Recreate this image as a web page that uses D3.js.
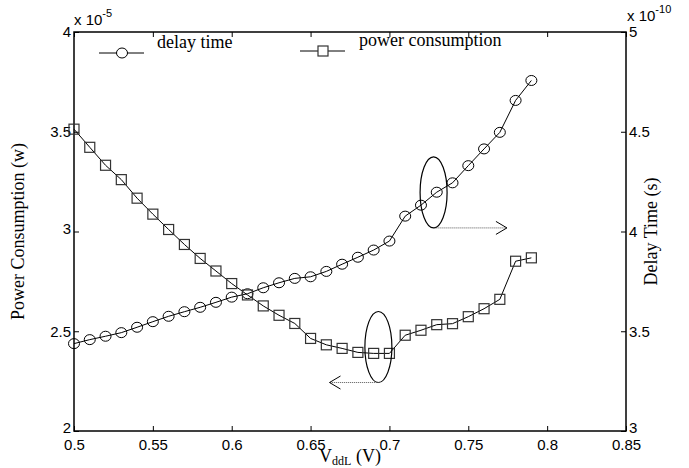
<!DOCTYPE html>
<html>
<head>
<meta charset="utf-8">
<script src="https://cdn.jsdelivr.net/npm/d3@7"></script>
<style>
  body { margin: 0; background: #fff; }
  .tick text { font-family: "Liberation Sans", Arial, sans-serif; font-size: 15px; fill: #000; }
  .lbl { font-family: "Liberation Serif", "Times New Roman", serif; font-size: 18px; fill: #000; }
</style>
</head>
<body>
<svg width="689" height="468"></svg>
<script>
// VddL values (V)
var vddl = [0.50, 0.51, 0.52, 0.53, 0.54, 0.55, 0.56, 0.57, 0.58, 0.59,
            0.60, 0.61, 0.62, 0.63, 0.64, 0.65, 0.66, 0.67, 0.68, 0.69,
            0.70, 0.71, 0.72, 0.73, 0.74, 0.75, 0.76, 0.77, 0.78, 0.79];
// delay time, x 1e-10 s (right axis)
var delayTime = [3.438, 3.458, 3.475, 3.493, 3.520, 3.548, 3.575, 3.598, 3.620, 3.645,
                 3.671, 3.688, 3.718, 3.743, 3.765, 3.773, 3.800, 3.836, 3.871, 3.907,
                 3.952, 4.077, 4.132, 4.197, 4.244, 4.330, 4.414, 4.497, 4.657, 4.757];
// power consumption, x 1e-5 W (left axis)
var powerCons = [3.513, 3.422, 3.332, 3.260, 3.167, 3.087, 3.010, 2.935, 2.865, 2.802,
                 2.739, 2.682, 2.627, 2.580, 2.539, 2.464, 2.432, 2.414, 2.394, 2.389,
                 2.389, 2.480, 2.505, 2.533, 2.538, 2.573, 2.613, 2.660, 2.851, 2.868];

var xTicks = [0.5, 0.55, 0.6, 0.65, 0.7, 0.75, 0.8, 0.85];
var leftTicks = [2, 2.5, 3, 3.5, 4];
var rightTicks = [3, 3.5, 4, 4.5, 5];

var svg = d3.select("svg"),
    margin = {top: 32, right: 63, bottom: 37, left: 74},
    width  = +svg.attr("width") - margin.left - margin.right,
    height = +svg.attr("height") - margin.top - margin.bottom;

var x  = d3.scaleLinear().domain([0.5, 0.85]).range([0, width]),
    yL = d3.scaleLinear().domain([2, 4]).range([height, 0]),
    yR = d3.scaleLinear().domain([3, 5]).range([height, 0]);

var fmt = function(d) { return String(d); };

var g = svg.append("g")
           .attr("transform", "translate(" + margin.left + "," + margin.top + ")");

// axes, ticks pointing inward
g.append("g")
  .attr("class", "axis")
  .attr("transform", "translate(0," + height + ")")
  .call(d3.axisBottom(x).tickValues(xTicks).tickFormat(fmt).tickSizeInner(-5).tickSizeOuter(0).tickPadding(8));

g.append("g")
  .attr("class", "axis")
  .call(d3.axisTop(x).tickValues(xTicks).tickFormat("").tickSizeInner(-5).tickSizeOuter(0));

g.append("g")
  .attr("class", "axis")
  .call(d3.axisLeft(yL).tickValues(leftTicks).tickFormat(fmt).tickSizeInner(-5).tickSizeOuter(0).tickPadding(3));

g.append("g")
  .attr("class", "axis")
  .attr("transform", "translate(" + width + ",0)")
  .call(d3.axisRight(yR).tickValues(rightTicks).tickFormat(fmt).tickSizeInner(-5).tickSizeOuter(0).tickPadding(3));

g.selectAll(".axis .tick line").attr("stroke", "#000");
g.selectAll(".axis path.domain").remove();

// corner labels sit a bit above the bottom line, like the original
g.selectAll(".axis .tick text")
  .filter(function(d) { return d === 2 || d === 3; })
  .attr("dy", "0.1em");

g.append("rect")
  .attr("width", width)
  .attr("height", height)
  .attr("fill", "none")
  .attr("stroke", "#000")
  .attr("stroke-width", 1.5);

// lines
var delayLine = d3.line()
  .x(function(d, i) { return x(vddl[i]); })
  .y(function(d) { return yR(d); });

var powerLine = d3.line()
  .x(function(d, i) { return x(vddl[i]); })
  .y(function(d) { return yL(d); });

g.append("path")
  .datum(delayTime)
  .attr("d", delayLine)
  .attr("fill", "none")
  .attr("stroke", "#000")
  .attr("stroke-width", 1);

g.append("path")
  .datum(powerCons)
  .attr("d", powerLine)
  .attr("fill", "none")
  .attr("stroke", "#000")
  .attr("stroke-width", 1);

g.selectAll(".circ")
  .data(delayTime)
  .enter().append("ellipse")
  .attr("class", "circ")
  .attr("cx", function(d, i) { return x(vddl[i]); })
  .attr("cy", function(d) { return yR(d); })
  .attr("rx", 5.5)
  .attr("ry", 5)
  .attr("fill", "none")
  .attr("stroke", "#000")
  .attr("stroke-width", 1);

g.selectAll(".sq")
  .data(powerCons)
  .enter().append("rect")
  .attr("class", "sq")
  .attr("x", function(d, i) { return x(vddl[i]) - 5; })
  .attr("y", function(d) { return yL(d) - 5; })
  .attr("width", 10)
  .attr("height", 10)
  .attr("fill", "none")
  .attr("stroke", "#333")
  .attr("stroke-width", 1.2);

// annotations: ellipse + dotted arrow pointing to the matching axis
function annot(cx, cy, yScale, ay, ax1, ax2) {
  g.append("ellipse")
    .attr("cx", x(cx)).attr("cy", yScale(cy))
    .attr("rx", 13.5).attr("ry", 35.5)
    .attr("fill", "none").attr("stroke", "#000").attr("stroke-width", 1.2);
  g.append("line")
    .attr("x1", x(ax1)).attr("x2", x(ax2))
    .attr("y1", yScale(ay)).attr("y2", yScale(ay))
    .attr("stroke", "#555").attr("stroke-width", 1)
    .attr("stroke-dasharray", "1,1");
  var dir = ax2 > ax1 ? -1 : 1, tx = x(ax2), ty = yScale(ay);
  g.append("path")
    .attr("d", "M" + (tx + dir * 11) + "," + (ty - 6.5) + "L" + tx + "," + ty + "L" + (tx + dir * 11) + "," + (ty + 6.5))
    .attr("fill", "none").attr("stroke", "#000").attr("stroke-width", 1);
}
annot(0.728, 4.196, yR, 4.018, 0.7285, 0.7745);
annot(0.693, 2.421, yL, 2.243, 0.6935, 0.662);

// legend
var legend = g.append("g");
legend.append("line").attr("x1", 25).attr("x2", 70).attr("y1", 21).attr("y2", 21).attr("stroke", "#000");
legend.append("ellipse").attr("cx", 48).attr("cy", 21).attr("rx", 5.5).attr("ry", 5)
  .attr("fill", "#fff").attr("stroke", "#000");
legend.append("text").attr("class", "lbl").attr("x", 83).attr("y", 16).text("delay time");

legend.append("line").attr("x1", 226).attr("x2", 271).attr("y1", 19).attr("y2", 19).attr("stroke", "#000");
legend.append("rect").attr("x", 244).attr("y", 14).attr("width", 10).attr("height", 10)
  .attr("fill", "#fff").attr("stroke", "#333").attr("stroke-width", 1.2);
legend.append("text").attr("class", "lbl").attr("x", 285).attr("y", 14).text("power consumption");

// exponent labels
var expL = svg.append("text").attr("x", margin.left).attr("y", 25)
  .style("font-family", "Liberation Sans, Arial, sans-serif").style("font-size", "15px");
expL.append("tspan").text("x 10");
expL.append("tspan").attr("dy", -8).style("font-size", "11px").text("-5");

var expR = svg.append("text").attr("x", margin.left + width + 1).attr("y", 21)
  .style("font-family", "Liberation Sans, Arial, sans-serif").style("font-size", "15px");
expR.append("tspan").text("x 10");
expR.append("tspan").attr("dy", -8).style("font-size", "11px").text("-10");

// axis titles
svg.append("text").attr("class", "lbl")
  .attr("transform", "translate(24," + (margin.top + height / 2) + ") rotate(-90)")
  .attr("text-anchor", "middle")
  .text("Power Consumption (w)");

svg.append("text").attr("class", "lbl")
  .attr("transform", "translate(657," + (margin.top + height / 2) + ") rotate(-90)")
  .attr("text-anchor", "middle")
  .text("Delay Time (s)");

var xt = svg.append("text").attr("class", "lbl")
  .attr("x", margin.left + width / 2).attr("y", 462)
  .attr("text-anchor", "middle");
xt.append("tspan").text("V");
xt.append("tspan").attr("dy", 3).style("font-size", "12px").text("ddL");
xt.append("tspan").attr("dy", -3).text(" (V)");
</script>
</body>
</html>
